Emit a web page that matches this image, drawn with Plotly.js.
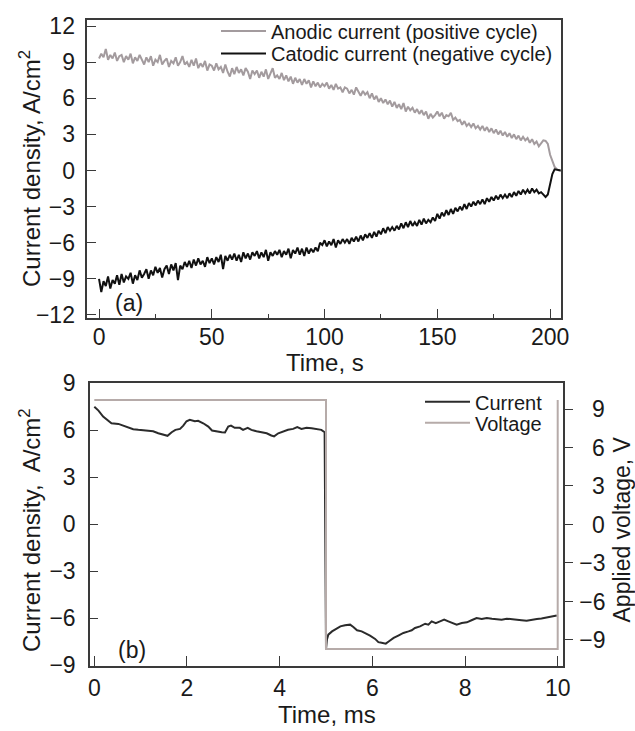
<!DOCTYPE html>
<html>
<head>
<meta charset="utf-8">
<script src="https://cdn.plot.ly/plotly-3.0.1.min.js"></script>
<style>
html,body{margin:0;padding:0;background:#fff;}
#chart{width:635px;height:731px;}
</style>
</head>
<body>
<div id="chart"></div>
<script>
// ---------- Panel (a): current density vs time (s) ----------
var timeA = [];
for (var i = 0; i <= 205; i++) timeA.push(i);

var anodicCurrent = [
  9.3, 9.7, 9.4, 10.1, 9.2, 9.6, 9.3, 9.8, 9.1, 9.5,
  9.6, 9.0, 9.5, 9.2, 9.7, 8.9, 9.4, 9.1, 9.6, 9.2,
  8.8, 9.4, 9.0, 9.5, 8.7, 9.2, 9.0, 9.6, 8.8, 9.1,
  9.3, 8.6, 9.1, 8.9, 9.4, 8.7, 9.0, 9.5, 8.8, 9.0,
  8.6, 9.2, 8.7, 9.3, 8.5, 8.9, 8.6, 9.1, 8.3, 8.8,
  8.7, 8.3, 8.9, 8.4, 8.6, 8.1, 8.8, 8.2, 7.8, 8.5,
  8.0, 8.6, 8.1, 8.4, 7.9, 8.5, 8.2, 7.6, 8.3, 8.0,
  8.3, 7.7, 8.2, 7.8, 8.4, 7.6, 8.0, 8.5, 7.7, 7.9,
  7.6, 8.1, 7.5, 7.9, 7.4, 7.8, 7.2, 7.7, 7.3, 7.6,
  7.1, 7.6, 7.2, 7.5, 6.9, 7.4, 7.0, 7.3, 6.9, 7.2,
  7.0, 7.3, 6.8, 7.1, 6.7, 7.2, 6.8, 6.9, 6.5, 6.9,
  6.8, 6.4, 6.7, 6.3, 6.9, 6.5, 6.2, 6.6, 6.3, 6.5,
  6.0, 6.4, 5.9, 6.2, 5.7, 6.0, 5.6, 5.9, 5.5, 5.8,
  5.3, 5.7, 5.2, 5.5, 5.1, 5.6, 4.9, 5.3, 5.0, 5.2,
  4.8, 5.1, 4.7, 5.0, 4.6, 4.9, 4.3, 4.7, 4.4, 4.6,
  4.9, 4.5, 4.8, 4.3, 4.6, 4.5, 4.8, 4.2, 4.4, 4.1,
  4.2, 3.8, 4.1, 3.7, 3.9, 3.6, 3.9, 3.5, 3.7, 3.4,
  3.7, 3.3, 3.6, 3.2, 3.5, 3.1, 3.4, 3.0, 3.3, 2.9,
  3.2, 2.8, 3.1, 2.7, 3.0, 2.6, 2.9, 2.5, 2.8, 2.5,
  2.7, 2.3, 2.6, 2.2, 2.4, 2.0, 2.3, 2.5, 2.45, 2.2,
  1.3, 0.7, 0.3, 0.1, 0.0, 0.0
];

var catodicCurrent = [
  -9.0, -10.1, -9.2, -9.6, -8.8, -9.8, -9.1, -9.4, -8.7, -9.5,
  -8.6, -9.3, -8.8, -9.0, -8.5, -9.4, -8.7, -9.1, -8.3, -8.9,
  -8.6, -8.2, -9.0, -8.3, -8.7, -8.0, -8.5, -8.1, -8.9, -8.2,
  -7.9, -8.6, -7.8, -8.3, -7.7, -9.1, -7.9, -8.2, -7.6, -8.0,
  -7.5, -8.1, -7.4, -7.9, -7.3, -7.8, -7.5, -8.0, -7.2, -7.7,
  -7.3, -7.8, -7.2, -7.6, -7.0, -8.2, -7.1, -7.5, -7.0, -7.4,
  -6.9, -7.5, -7.0, -7.6, -6.8, -7.3, -6.9, -7.4, -6.8, -7.1,
  -6.7, -7.3, -6.8, -7.2, -6.6, -7.5, -6.8, -7.1, -6.7, -7.0,
  -6.6, -7.2, -6.7, -7.0, -6.5, -7.3, -6.6, -6.9, -6.4, -7.0,
  -6.5, -7.1, -6.4, -6.9, -6.5, -6.8, -6.4, -6.7, -6.0, -6.2,
  -5.8, -6.3, -5.9, -6.2, -5.7, -6.4, -5.8, -6.1, -5.7, -6.0,
  -5.7, -6.1, -5.6, -5.9, -5.5, -5.9, -5.4, -5.8, -5.3, -5.6,
  -5.2, -5.6, -5.1, -5.5, -5.0, -5.3, -4.8, -5.2, -4.7, -5.0,
  -4.7, -5.0, -4.6, -4.9, -4.4, -4.8, -4.3, -4.7, -4.2, -4.6,
  -4.3, -4.6, -4.1, -4.5, -4.0, -4.4, -4.1, -4.3, -3.9, -4.2,
  -3.6, -4.0, -3.5, -3.8, -3.3, -3.7, -3.2, -3.6, -3.1, -3.4,
  -3.0, -3.3, -2.8, -3.2, -2.7, -3.0, -2.6, -2.9, -2.5, -2.8,
  -2.4, -2.8, -2.3, -2.6, -2.2, -2.5, -2.1, -2.4, -2.0, -2.3,
  -2.0, -2.3, -1.9, -2.2, -1.8, -2.1, -1.7, -2.0, -1.6, -1.9,
  -1.6, -1.9, -1.5, -1.8, -1.6, -1.9, -1.8, -2.0, -2.2, -2.0,
  -1.0, -0.3, 0.1, 0.05, 0.0, 0.0
];

var ticksA_x = [0, 50, 100, 150, 200];
var ticksA_y = [-12, -9, -6, -3, 0, 3, 6, 9, 12];

// ---------- Panel (b): current density and voltage vs time (ms) ----------
var timeB = [0, 0.09, 0.19, 0.30, 0.37, 0.52, 0.63, 0.73, 0.84, 0.95,
  1.06, 1.16, 1.27, 1.38, 1.49, 1.58, 1.67, 1.75, 1.85, 1.92,
  1.99, 2.06, 2.17, 2.24, 2.35, 2.46, 2.54, 2.64, 2.75, 2.82,
  2.89, 2.95, 3.03, 3.14, 3.21, 3.31, 3.39, 3.50, 3.61, 3.72,
  3.82, 3.88, 3.97, 4.08, 4.18, 4.29, 4.38, 4.47, 4.58, 4.69,
  4.79, 4.90, 4.97, 5.00,
  5.02, 5.05, 5.13, 5.21, 5.31, 5.41, 5.52, 5.59, 5.67, 5.77,
  5.84, 5.95, 6.06, 6.13, 6.20, 6.29, 6.36, 6.46, 6.56, 6.67,
  6.78, 6.85, 6.92, 7.03, 7.14, 7.21, 7.28, 7.37, 7.46, 7.55,
  7.64, 7.75, 7.82, 7.93, 8.04, 8.14, 8.25, 8.36, 8.47, 8.58,
  8.68, 8.79, 8.90, 9.01, 9.12, 9.22, 9.33, 9.44, 9.55, 9.65,
  9.76, 9.87, 9.98];

var currentB = [7.50, 7.25, 6.87, 6.57, 6.44, 6.40, 6.29, 6.19, 6.06, 6.02,
  5.98, 5.98, 5.93, 5.80, 5.70, 5.64, 5.87, 6.02, 6.08, 6.29,
  6.57, 6.66, 6.57, 6.60, 6.44, 6.23, 5.98, 5.91, 5.87, 5.85,
  6.23, 6.29, 6.15, 6.15, 6.02, 6.15, 6.02, 5.93, 5.87, 5.80,
  5.66, 5.60, 5.80, 5.93, 6.02, 6.08, 6.19, 6.08, 6.15, 6.12,
  6.06, 6.02, 5.87, -8.0,
  -7.37, -7.06, -6.85, -6.70, -6.53, -6.46, -6.42, -6.57, -6.78, -6.85,
  -6.95, -7.12, -7.33, -7.54, -7.58, -7.63, -7.48, -7.27, -7.12, -6.95,
  -6.85, -6.78, -6.63, -6.53, -6.36, -6.42, -6.21, -6.32, -6.21, -6.10,
  -6.21, -6.36, -6.42, -6.32, -6.27, -6.14, -6.00, -6.06, -6.00, -6.04,
  -6.06, -6.10, -6.04, -6.06, -6.10, -6.14, -6.17, -6.10, -6.06, -6.02,
  -5.95, -5.89, -5.83];

var timeV = [0, 5, 5, 10, 10];
var voltageB = [9.7, 9.7, -9.7, -9.7, 9.7];

var ticksB_x = [0, 2, 4, 6, 8, 10];
var ticksB_y = [-9, -6, -3, 0, 3, 6, 9];
var ticksB_yRightText = ['\u22129', '\u22126', '\u22123', '\u20070', '\u20073', '\u20076', '\u20079'];

// ---------- layout helpers (pixel -> paper) ----------
var W = 635, H = 731;
function px(x) { return x / W; }
function py(y) { return 1 - y / H; }

var FONT = 'Liberation Sans, Arial, sans-serif';
var AXC = '#3a3a3a';
var TXT = '#1a1a1a';

var traces = [
  {x: timeA, y: anodicCurrent, xaxis: 'x', yaxis: 'y', mode: 'lines',
   name: 'Anodic current (positive cycle)', legend: 'legend', showlegend: true,
   line: {color: '#a39b9e', width: 2}},
  {x: timeA, y: catodicCurrent, xaxis: 'x', yaxis: 'y', mode: 'lines',
   name: 'Catodic current (negative cycle)', legend: 'legend2', showlegend: true,
   line: {color: '#111111', width: 2}},
  {x: timeV, y: voltageB, xaxis: 'x2', yaxis: 'y3', mode: 'lines',
   name: 'Voltage', legend: 'legend4', showlegend: true,
   line: {color: '#b6aba9', width: 2}},
  {x: timeB, y: currentB, xaxis: 'x2', yaxis: 'y2', mode: 'lines',
   name: 'Current', legend: 'legend3', showlegend: true,
   line: {color: '#2b2b2b', width: 2}}
];

function legendAt(xl, yc) {
  return {x: px(xl), y: py(yc), xanchor: 'left', yanchor: 'middle',
          bgcolor: 'rgba(0,0,0,0)', borderwidth: 0, itemwidth: 45,
          font: {family: FONT, size: 20, color: TXT}};
}

var axBase = {
  showline: true, linecolor: AXC, linewidth: 1.5, mirror: true,
  showgrid: false, zeroline: false, ticks: 'inside', tickcolor: AXC,
  tickwidth: 1.3, tickfont: {family: FONT, size: 23, color: TXT}
};
function ax(o) { return Object.assign({}, axBase, o); }

var layout = {
  width: W, height: H,
  showlegend: true,
  margin: {l: 0, r: 0, t: 0, b: 0},
  paper_bgcolor: '#fff', plot_bgcolor: '#fff',
  font: {family: FONT, color: TXT},
  xaxis: ax({domain: [px(87.3), px(560.7)], anchor: 'y', range: [-5.2, 204.7],
             tickvals: ticksA_x, ticklen: 10, ticklabelstandoff: -3,
             minor: {dtick: 25, tick0: 25, ticks: 'inside', ticklen: 5, tickcolor: AXC}}),
  yaxis: ax({domain: [py(318.3), py(20)], anchor: 'x', range: [-12.28, 12.5],
             tickvals: ticksA_y, ticklen: 9, ticklabelstandoff: 6}),
  xaxis2: ax({domain: [px(90), px(562.7)], anchor: 'y2', range: [-0.093, 10.108],
              tickvals: ticksB_x, ticklen: 10, ticklabelstandoff: 1}),
  yaxis2: ax({domain: [py(666), py(382.7)], anchor: 'x2', range: [-9.06, 9.03],
              tickvals: ticksB_y, ticklen: 8, ticklabelstandoff: 8}),
  yaxis3: ax({overlaying: 'y2', anchor: 'x2', side: 'right', range: [-11.03, 11.05],
              tickvals: ticksB_y, ticktext: ticksB_yRightText, ticks: 'outside',
              ticklen: 9, showline: false, mirror: false, ticklabelstandoff: 2}),
  legend: legendAt(216, 31),
  legend2: legendAt(216, 53.5),
  legend3: legendAt(420, 401.7),
  legend4: legendAt(420, 422.7),
  annotations: [
    {text: 'Current density, A/cm<sup>2</sup>', xref: 'paper', yref: 'paper',
     x: px(30), y: py(169), xanchor: 'center', yanchor: 'middle', textangle: -90,
     showarrow: false, font: {family: FONT, size: 24, color: TXT}},
    {text: 'Time, s', xref: 'paper', yref: 'paper', x: px(325), y: py(362),
     xanchor: 'center', yanchor: 'middle', showarrow: false,
     font: {family: FONT, size: 24, color: TXT}},
    {text: '(a)', xref: 'paper', yref: 'paper', x: px(129), y: py(303),
     xanchor: 'center', yanchor: 'middle', showarrow: false,
     font: {family: FONT, size: 23, color: TXT}},
    {text: 'Current density,  A/cm<sup>2</sup>', xref: 'paper', yref: 'paper',
     x: px(30), y: py(530), xanchor: 'center', yanchor: 'middle', textangle: -90,
     showarrow: false, font: {family: FONT, size: 24, color: TXT}},
    {text: 'Applied voltage, V', xref: 'paper', yref: 'paper',
     x: px(621.5), y: py(530), xanchor: 'center', yanchor: 'middle', textangle: -90,
     showarrow: false, font: {family: FONT, size: 23, color: TXT}},
    {text: 'Time, ms', xref: 'paper', yref: 'paper', x: px(327), y: py(714),
     xanchor: 'center', yanchor: 'middle', showarrow: false,
     font: {family: FONT, size: 24, color: TXT}},
    {text: '(b)', xref: 'paper', yref: 'paper', x: px(132), y: py(650),
     xanchor: 'center', yanchor: 'middle', showarrow: false,
     font: {family: FONT, size: 23, color: TXT}}
  ]
};

Plotly.newPlot('chart', traces, layout, {displayModeBar: false, responsive: false});
</script>
</body>
</html>
